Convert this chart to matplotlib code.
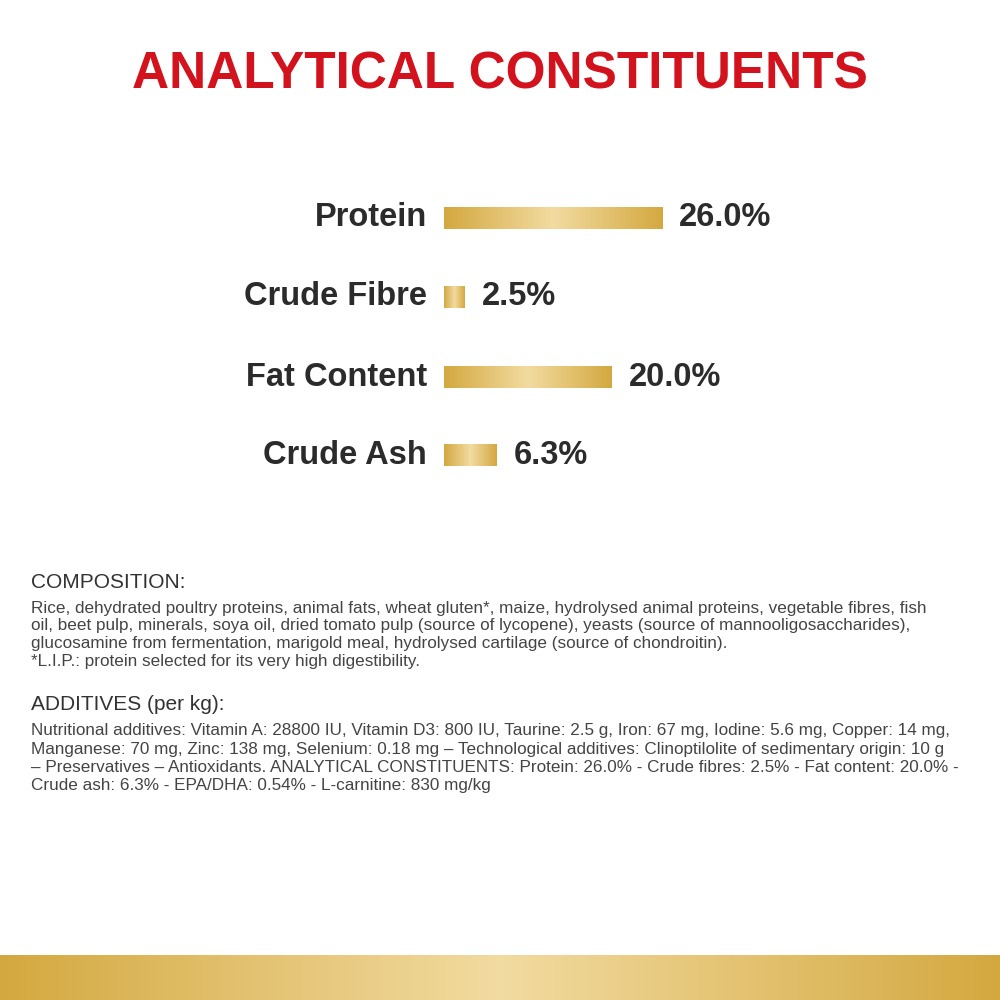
import matplotlib
matplotlib.use("Agg")
import matplotlib.pyplot as plt
import numpy as np

FONT = "Liberation Sans"

categories = ["Protein", "Crude Fibre", "Fat Content", "Crude Ash"]
values = [26.0, 2.5, 20.0, 6.3]
labels = ["26.0%", "2.5%", "20.0%", "6.3%"]

fig = plt.figure(figsize=(10, 10), dpi=100)
bg = fig.add_axes([0, 0, 1, 1]); bg.axis("off")

bg.text(500, 75, "ANALYTICAL CONSTITUENTS", color="#d2121c", fontsize=37, fontweight="bold",
        family=FONT, ha="center", va="center")

def grad(n=256):
    t = np.linspace(0, 1, n)
    w = 1 - np.abs(t - 0.5) * 2
    c0 = np.array([0.83, 0.66, 0.25]); c1 = np.array([0.95, 0.86, 0.63])
    return (c0[None, :] * (1 - w[:, None]) + c1[None, :] * w[:, None])[None, :, :]

ax = fig.add_axes([0.444, 0.5, 0.336, 0.33])
ys = [218, 297, 377, 455]
ax.axis("off")
g = grad()
for c, v, l, y in zip(categories, values, labels, ys):
    r = ax.barh(y, v, height=22, color="none")[0]
    im = ax.imshow(g, extent=[0, v, y + 11, y - 11], aspect="auto", zorder=2)
    im.set_clip_path(r)
    ax.text(-2.0, y, c, ha="right", va="center", fontsize=23.5, fontweight="bold", family=FONT, color="#2b2b2b")
    ax.text(v + 2.0, y, l, ha="left", va="center", fontsize=23.5, fontweight="bold", family=FONT, color="#2b2b2b")
ax.set_xlim(0, 40); ax.set_ylim(500, 170)

comp = ["Rice, dehydrated poultry proteins, animal fats, wheat gluten*, maize, hydrolysed animal proteins, vegetable fibres, fish",
        "oil, beet pulp, minerals, soya oil, dried tomato pulp (source of lycopene), yeasts (source of mannooligosaccharides),",
        "glucosamine from fermentation, marigold meal, hydrolysed cartilage (source of chondroitin).",
        "*L.I.P.: protein selected for its very high digestibility."]
add = ["Nutritional additives: Vitamin A: 28800 IU, Vitamin D3: 800 IU, Taurine: 2.5 g, Iron: 67 mg, Iodine: 5.6 mg, Copper: 14 mg,",
       "Manganese: 70 mg, Zinc: 138 mg, Selenium: 0.18 mg \u2013 Technological additives: Clinoptilolite of sedimentary origin: 10 g",
       "\u2013 Preservatives \u2013 Antioxidants. ANALYTICAL CONSTITUENTS: Protein: 26.0% - Crude fibres: 2.5% - Fat content: 20.0% -",
       "Crude ash: 6.3% - EPA/DHA: 0.54% - L-carnitine: 830 mg/kg"]
bg.text(31, 582, "COMPOSITION:", fontsize=15, family=FONT, color="#333333", va="center")
for i, s in enumerate(comp):
    bg.text(31, 608 + 17.7 * i, s, fontsize=12.3, family=FONT, color="#444444", va="center")
bg.text(31, 705, "ADDITIVES (per kg):", fontsize=15, family=FONT, color="#333333", va="center")
for i, s in enumerate(add):
    bg.text(31, 731 + 18.3 * i, s, fontsize=12.3, family=FONT, color="#444444", va="center")

bg.imshow(grad(), extent=[0, 1000, 1000, 955], aspect="auto", zorder=1)
bg.set_xlim(0, 1000); bg.set_ylim(1000, 0)
fig.savefig("out.png", dpi=100, facecolor="white")
